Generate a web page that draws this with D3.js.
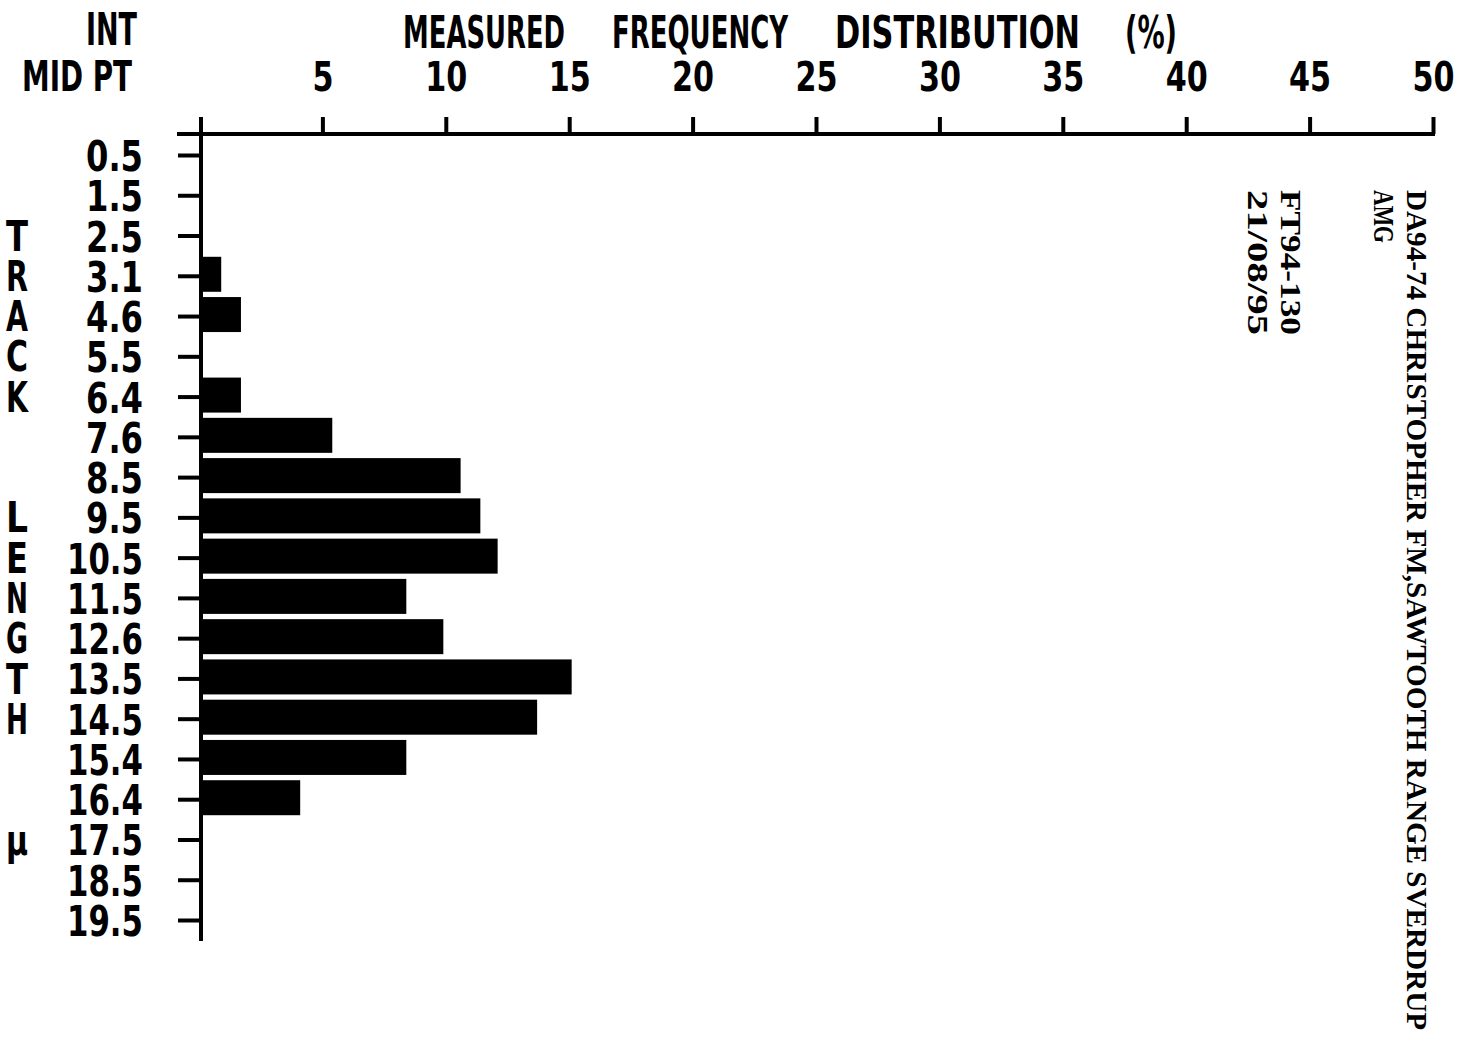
<!DOCTYPE html>
<html>
<head>
<meta charset="utf-8">
<script src="https://cdn.jsdelivr.net/npm/d3@7"></script>
<style>
  body { margin: 0; background: #fff; }
  .blk { font-family: "DejaVu Sans Condensed", "DejaVu Sans", sans-serif; font-weight: bold; fill: #000; }
  .note { font-family: "Liberation Serif", "DejaVu Serif", serif; font-weight: bold; fill: #000; }
</style>
</head>
<body>
<script>
// interval mid points (track length, microns)
const midPoints = ["0.5", "1.5", "2.5", "3.1", "4.6", "5.5", "6.4", "7.6", "8.5", "9.5",
  "10.5", "11.5", "12.6", "13.5", "14.5", "15.4", "16.4", "17.5", "18.5", "19.5"]
// measured frequency (%)
const freq = [0, 0, 0, 0.9, 1.7, 0, 1.7, 5.4, 10.6, 11.4,
  12.1, 8.4, 9.9, 15.1, 13.7, 8.4, 4.1, 0, 0, 0]
const xTicks = [5, 10, 15, 20, 25, 30, 35, 40, 45, 50]
const titleWords = ["MEASURED", "FREQUENCY", "DISTRIBUTION", "(%)"]
// letters written down the left side, each next to a row
const sideLetters = [["T", "2.5"], ["R", "3.1"], ["A", "4.6"], ["C", "5.5"], ["K", "6.4"],
  ["L", "9.5"], ["E", "10.5"], ["N", "11.5"], ["G", "12.6"], ["T", "13.5"], ["H", "14.5"],
  ["\u00b5", "17.5"]]
const notes = ["DA94-74 CHRISTOPHER FM,SAWTOOTH RANGE SVERDRUP", "AMG", "FT94-130", "21/08/95"]

let width = 1462, height = 1061

let svg = d3.select("body").append("svg")
  .attr("width", width)
  .attr("height", height)

let x = d3.scaleLinear().domain([0, 50]).range([199, 1433])
let y = d3.scalePoint().domain(midPoints).range([155, 920])

let axisY = 134, barH = 35

// bars
svg.selectAll("rect.bar")
  .data(midPoints.map((m, i) => ({ m, v: freq[i] })).filter(d => d.v > 0))
  .enter().append("rect")
  .attr("class", "bar")
  .attr("x", x(0) + 3)
  .attr("y", d => y(d.m) - 19)
  .attr("width", d => x(d.v) - x(0) - 3)
  .attr("height", barH)
  .attr("fill", "#000")

// top axis
let topAxis = d3.axisTop(x).tickValues(xTicks).tickSize(17).tickSizeOuter(0).tickFormat(d3.format("d"))
let gx = svg.append("g").attr("transform", `translate(0,${axisY})`).call(topAxis)
gx.select(".domain").remove()
gx.selectAll(".tick line").attr("stroke", "#000").attr("stroke-width", 4)
gx.selectAll(".tick text").attr("class", "blk").attr("y", -43).attr("dy", 0)
  .style("font-size", "40px")
  .attr("textLength", d => String(d).length * 21).attr("lengthAdjust", "spacingAndGlyphs")
svg.append("line")
  .attr("x1", 177).attr("x2", x(50) + 2)
  .attr("y1", axisY).attr("y2", axisY)
  .attr("stroke", "#000").attr("stroke-width", 4)

// left axis
let leftAxis = d3.axisLeft(y).tickSize(23).tickSizeOuter(0)
let gy = svg.append("g").attr("transform", `translate(${x(0) + 2},0)`).call(leftAxis)
gy.select(".domain").remove()
gy.selectAll(".tick line").attr("stroke", "#000").attr("stroke-width", 4)
gy.selectAll(".tick text").attr("class", "blk").attr("x", -58).attr("dy", "0.36em")
  .style("font-size", "43px")
  .attr("textLength", d => d.length * 19).attr("lengthAdjust", "spacingAndGlyphs")
svg.append("line")
  .attr("x1", x(0) + 2).attr("x2", x(0) + 2)
  .attr("y1", 117).attr("y2", 941)
  .attr("stroke", "#000").attr("stroke-width", 4)

// headings
const wordX = [403, 612, 835, 1125], wordW = [162, 176, 245, 52]
svg.selectAll("text.title")
  .data(titleWords)
  .enter().append("text")
  .attr("class", "blk")
  .attr("x", (d, i) => wordX[i]).attr("y", 48)
  .attr("textLength", (d, i) => wordW[i]).attr("lengthAdjust", "spacingAndGlyphs")
  .style("font-size", "44px")
  .text(d => d)
svg.append("text").attr("class", "blk").attr("x", 86).attr("y", 45)
  .attr("textLength", 51).attr("lengthAdjust", "spacingAndGlyphs")
  .style("font-size", "44px").text("INT")
svg.append("text").attr("class", "blk").attr("x", 22).attr("y", 91)
  .attr("textLength", 110).attr("lengthAdjust", "spacingAndGlyphs")
  .style("font-size", "42px").text("MID PT")

// vertical caption on the left
svg.selectAll("text.side")
  .data(sideLetters)
  .enter().append("text")
  .attr("class", "blk")
  .attr("x", 6).attr("y", d => y(d[1]))
  .attr("dy", "0.36em")
  .attr("textLength", 22).attr("lengthAdjust", "spacingAndGlyphs")
  .style("font-size", "42px")
  .text(d => d[0])

// notes written sideways on the right
const noteX = [1407, 1374, 1281, 1248], noteW = [840, 53, 145, 145]
svg.selectAll("text.note")
  .data(notes)
  .enter().append("text")
  .attr("class", "note")
  .attr("transform", (d, i) => `translate(${noteX[i]},190) rotate(90)`)
  .attr("textLength", (d, i) => noteW[i]).attr("lengthAdjust", "spacingAndGlyphs")
  .style("font-size", "30px")
  .text(d => d)
</script>
</body>
</html>
